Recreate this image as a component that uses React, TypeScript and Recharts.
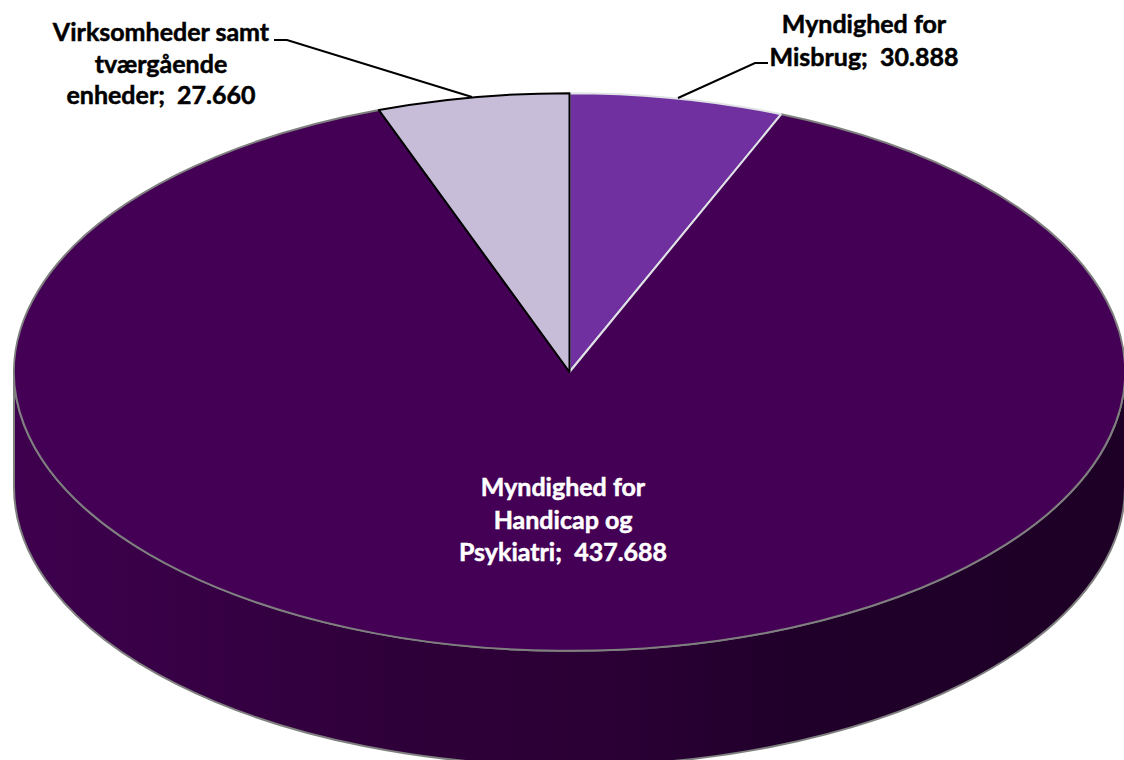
import React from 'react'
import { PieChart, Pie, Cell } from 'recharts'

const categories = ['Myndighed for Misbrug', 'Myndighed for Handicap og Psykiatri', 'Virksomheder samt tværgående enheder']
const values = [30888, 437688, 27660]
const labelLines = [
  ['Myndighed for', 'Misbrug'],
  ['Myndighed for', 'Handicap og', 'Psykiatri'],
  ['Virksomheder samt', 'tværgående', 'enheder'],
]
const colors = ['#7030a0', '#440055', '#c8bdd9']
const strokes = ['#dfe3e6', '#7f7f7f', '#000000']

const tableData = categories.map((name, i) => ({ name, value: values[i] }))

// flattened look of the 3D pie
const CX = 569.5
const CY = 372
const RX = 555.5
const TILT = 0.502
const DEPTH = 115

const labelStyle = [
  { x: 864, ys: [25, 58], color: '#000' },
  { x: 563, ys: [488, 521, 553], color: '#fff' },
  { x: 161, ys: [33, 65, 96], color: '#000' },
]
const leaders = [
  '678,98 755,63 768,63',
  null,
  '472,97 287,40 274,40',
]

const formatValue = (v: number) => String(v).replace(/\B(?=(\d{3})+$)/g, '.')

const pt = (cx: number, cy: number, r: number, angle: number) => {
  const a = (angle * Math.PI) / 180
  return [cx + r * Math.cos(a), cy - r * TILT * Math.sin(a)]
}

const SliceShape = (props: any) => {
  const { cx, cy, outerRadius: r, startAngle, endAngle, index, fill, stroke } = props
  const ry = r * TILT
  const [x0, y0] = pt(cx, cy, r, startAngle)
  const [x1, y1] = pt(cx, cy, r, endAngle)
  const large = Math.abs(endAngle - startAngle) > 180 ? 1 : 0
  const arc = `M${x0},${y0} A${r},${ry} 0 ${large} 1 ${x1},${y1}`
  const wedge = `M${cx},${cy} L${x0},${y0} A${r},${ry} 0 ${large} 1 ${x1},${y1} Z`
  if (index !== 1) {
    return <path d={wedge} fill={fill} stroke={stroke} strokeWidth={2} strokeLinejoin="round" />
  }
  // the big slice holds the whole visible wall
  const wall = `M${cx - r},${cy} A${r},${ry} 0 0 0 ${cx + r},${cy} L${cx + r},${cy + DEPTH} A${r},${ry} 0 0 1 ${cx - r},${cy + DEPTH} Z`
  return (
    <g>
      <defs>
        <linearGradient id="wallFill" gradientUnits="userSpaceOnUse" x1={cx - r} y1="0" x2={cx + r} y2="0">
          <stop offset="0%" stopColor="#3e004e" />
          <stop offset="35%" stopColor="#2e0039" />
          <stop offset="55%" stopColor="#2a0034" />
          <stop offset="70%" stopColor="#20002a" />
          <stop offset="100%" stopColor="#1e0026" />
        </linearGradient>
      </defs>
      <path d={wall} fill="url(#wallFill)" stroke="#7f7f7f" strokeWidth={2} />
      <path d={wedge} fill={fill} stroke="none" />
      <path d={arc} fill="none" stroke={stroke} strokeWidth={2} />
      <line x1={cx} y1={cy} x2={x0} y2={y0} stroke={strokes[0]} strokeWidth={2} />
    </g>
  )
}

const renderLabel = (props: any) => {
  const i = props.index
  const style = labelStyle[i]
  const lines = labelLines[i]
  return (
    <g key={i}>
      {leaders[i] && <polyline points={leaders[i] as string} fill="none" stroke="#000" strokeWidth={2} />}
      <text
        textAnchor="middle"
        fill={style.color}
        stroke={style.color}
        strokeWidth={0.5}
        fontFamily="Lato, sans-serif"
        fontWeight={700}
        fontSize={25}
        style={{ whiteSpace: 'pre' }}
      >
        {lines.map((line, k) => (
          <tspan key={k} x={style.x} y={style.ys[k] + 8}>
            {k === lines.length - 1 ? `${line};  ${formatValue(values[i])}` : line}
          </tspan>
        ))}
      </text>
    </g>
  )
}

export default function App() {
  return (
    <div style={{ position: 'absolute', left: 0, top: 0, width: 1124, height: 760, background: '#fff', overflow: 'hidden' }}>
      <PieChart width={1124} height={760} margin={{ top: 0, right: 0, bottom: 0, left: 0 }}>
        <Pie
          data={tableData}
          dataKey="value"
          nameKey="name"
          cx={CX}
          cy={CY}
          innerRadius={0}
          outerRadius={RX}
          startAngle={90}
          endAngle={-270}
          paddingAngle={0}
          shape={SliceShape}
          label={renderLabel}
          labelLine={false}
          isAnimationActive={false}
        >
          {tableData.map((entry, index) => (
            <Cell key={`cell-${index}`} fill={colors[index]} stroke={strokes[index]} />
          ))}
        </Pie>
      </PieChart>
    </div>
  )
}
